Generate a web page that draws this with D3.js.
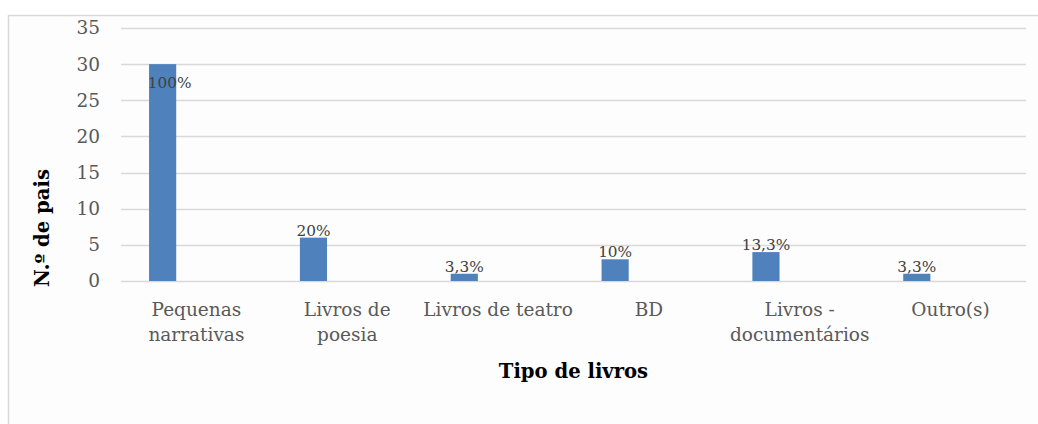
<!DOCTYPE html>
<html>
<head>
<meta charset="utf-8">
<script src="https://cdn.jsdelivr.net/npm/d3@7"></script>
<style>
  html, body { margin: 0; padding: 0; background: #ffffff; }
  svg { display: block; }
</style>
</head>
<body>
<svg id="chart" width="1038" height="424"></svg>
<script>
// ---- data ----
const categories = [
  ["Pequenas", "narrativas"],
  ["Livros de", "poesia"],
  ["Livros de teatro"],
  ["BD"],
  ["Livros -", "documentários"],
  ["Outro(s)"]
];
const categoryKeys = ["Pequenas narrativas", "Livros de poesia", "Livros de teatro", "BD", "Livros - documentários", "Outro(s)"];
const values = [30, 6, 1, 3, 4, 1];
const percentLabels = ["100%", "20%", "3,3%", "10%", "13,3%", "3,3%"];
const yTicks = [0, 5, 10, 15, 20, 25, 30, 35];
const yTitle = "N.º de pais";
const xTitle = "Tipo de livros";

// ---- layout ----
const W = 1038, H = 424;
const plot = { left: 121, right: 1026, top: 28, bottom: 281 };
const svg = d3.select("#chart");

// chart frame
svg.append("rect")
  .attr("x", 8.5).attr("y", 15.5)
  .attr("width", W + 20).attr("height", H + 20)
  .attr("fill", "#fdfdfd")
  .attr("stroke", "#d9d9d9").attr("stroke-width", 1.5);

const x = d3.scaleBand().domain(categoryKeys).range([plot.left, plot.right]).padding(0);
const y = d3.scaleLinear().domain([0, 35]).range([plot.bottom, plot.top]);

// gridlines
svg.append("g").selectAll("line").data(yTicks).join("line")
  .attr("x1", plot.left).attr("x2", plot.right)
  .attr("y1", d => Math.round(y(d)) + 0.5).attr("y2", d => Math.round(y(d)) + 0.5)
  .attr("stroke", "#d9d9d9").attr("stroke-width", 1.5);

// y axis labels
const yAxis = d3.axisLeft(y).tickValues(yTicks).tickSize(0).tickPadding(0);
const gy = svg.append("g").attr("transform", `translate(100,0)`).call(yAxis);
gy.select(".domain").remove();
gy.selectAll("text")
  .attr("font-family", "'DejaVu Serif', serif")
  .attr("font-size", 18.5)
  .attr("fill", "#595959");

// bars
const barOff = 0.186, barW = 0.18;
svg.append("g").selectAll("rect").data(values).join("rect")
  .attr("x", (d, i) => x(categoryKeys[i]) + x.bandwidth() * barOff)
  .attr("width", x.bandwidth() * barW)
  .attr("y", d => y(d))
  .attr("height", d => y(0) - y(d))
  .attr("fill", "#4f81bd");

// value labels
const maxV = d3.max(values);
svg.append("g").selectAll("text").data(values).join("text")
  .attr("x", (d, i) => x(categoryKeys[i]) + x.bandwidth() * (barOff + barW / 2) + (d === maxV ? 7 : 0))
  .attr("y", d => d === maxV ? y(d) + 24 : y(d) - 2)
  .attr("text-anchor", "middle")
  .attr("font-family", "'DejaVu Serif', serif")
  .attr("font-size", 15.3)
  .attr("fill", "#404040")
  .text((d, i) => percentLabels[i]);

// x axis category labels
const gx = svg.append("g");
categories.forEach((lines, i) => {
  const t = gx.append("text")
    .attr("x", x(categoryKeys[i]) + x.bandwidth() / 2)
    .attr("y", 316)
    .attr("text-anchor", "middle")
    .attr("font-family", "'DejaVu Serif', serif")
    .attr("font-size", 18.5)
    .attr("fill", "#595959");
  lines.forEach((ln, j) => {
    t.append("tspan").attr("x", x(categoryKeys[i]) + x.bandwidth() / 2)
      .attr("dy", j === 0 ? 0 : 25).text(ln);
  });
});

// axis titles
svg.append("text")
  .attr("x", (plot.left + plot.right) / 2)
  .attr("y", 378)
  .attr("text-anchor", "middle")
  .attr("font-family", "'DejaVu Serif', serif")
  .attr("font-weight", "bold")
  .attr("font-size", 19.6)
  .attr("fill", "#000")
  .text(xTitle);

svg.append("text")
  .attr("transform", "translate(49,228) rotate(-90)")
  .attr("text-anchor", "middle")
  .attr("font-family", "'DejaVu Serif', serif")
  .attr("font-weight", "bold")
  .attr("font-size", 19.6)
  .attr("fill", "#000")
  .text(yTitle);
</script>
</body>
</html>
